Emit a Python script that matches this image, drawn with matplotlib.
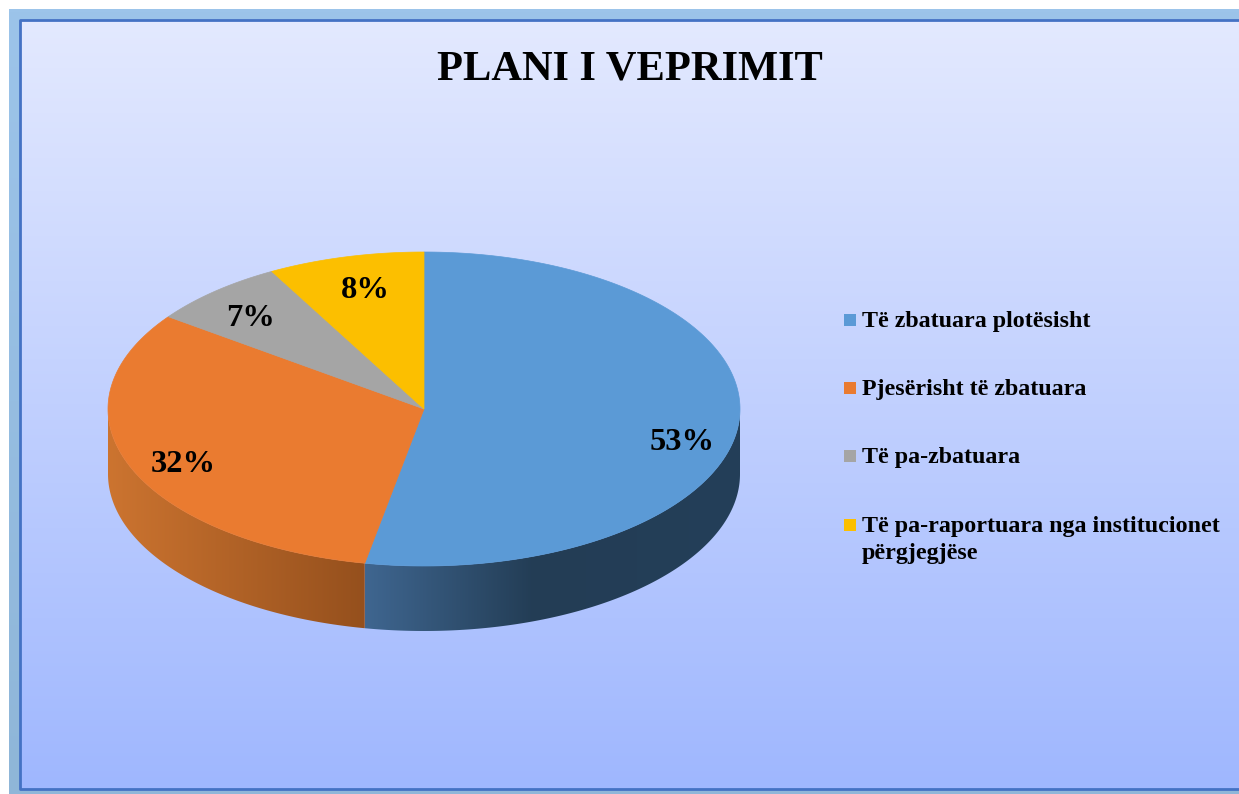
import numpy as np
import matplotlib
matplotlib.use('Agg')
import matplotlib.pyplot as plt
from matplotlib.colors import LinearSegmentedColormap
from matplotlib.patches import Polygon, Rectangle

title = 'PLANI I VEPRIMIT'
categories = ['Të zbatuara plotësisht', 'Pjesërisht të zbatuara', 'Të pa-zbatuara',
              'Të pa-raportuara nga institucionet\npërgjegjëse']
values = [53, 32, 7, 8]
colors = ['#5b9ad6', '#ea7b30', '#a5a5a5', '#fcbf00']
labels = ['53%', '32%', '7%', '8%']

# pie geometry in image pixels
cx, cy = 424, 409
rx, ry = 316, 157
depth = 65
W, H = 1239, 794

plt.rcParams['font.family'] = ['Liberation Serif', 'DejaVu Serif']
plt.rcParams['font.weight'] = 'bold'

fig = plt.figure(figsize=(W / 100, H / 100), dpi=100, facecolor='white')
ax = fig.add_axes([0, 0, 1, 1])
ax.set_xlim(0, W)
ax.set_ylim(H, 0)
ax.axis('off')


def grad(*c):
    return LinearSegmentedColormap.from_list('g', list(c))


# outer frame and chart area
ax.imshow(np.linspace(0, 1, 256).reshape(-1, 1), cmap=grad('#9cc4ea', '#8fb6d8'),
          extent=(9, W, H, 9), aspect='auto', zorder=0)
ax.imshow(np.linspace(0, 1, 256).reshape(-1, 1), cmap=grad('#e3e9ff', '#9fb7fe'),
          extent=(20, W, 789, 20), aspect='auto', zorder=1)
ax.plot([W, 20, 20, W], [20, 20, 789, 789], color='#4472c4', lw=2, zorder=2)


def ell(t):
    # t in degrees, clockwise from the top
    r = np.radians(t)
    return cx + rx * np.sin(r), cy - ry * np.cos(r)


fracs = np.cumsum([0] + values) / sum(values) * 360

# side wall, visible only on the lower half of the ellipse
side_maps = [LinearSegmentedColormap.from_list('b', [(0, '#3f6690'), (0.45, '#233d55'), (1, '#243f59')]),
             grad('#cc7430', '#95501d')]
for i in range(2):
    t0, t1 = max(fracs[i], 90), min(fracs[i + 1], 270)
    x, y = ell(np.linspace(t0, t1, 200))
    clip = Polygon(np.r_[np.c_[x, y], np.c_[x[::-1], y[::-1] + depth]], fc='none', ec='none')
    ax.add_patch(clip)
    im = ax.imshow(np.linspace(0, 1, 256).reshape(1, -1), cmap=side_maps[i], aspect='auto',
                   extent=(x.min(), x.max(), cy + ry + depth, cy), zorder=3)
    im.set_clip_path(clip)
ax.set_xlim(0, W)
ax.set_ylim(H, 0)

# top face
for i, c in enumerate(colors):
    x, y = ell(np.linspace(fracs[i], fracs[i + 1], 200))
    ax.add_patch(Polygon(np.r_[[[cx, cy]], np.c_[x, y]], fc=c, ec=c, lw=0.5, zorder=4))

# percent labels
label_x = [682, 183, 251, 365]
label_y = [442, 465, 318, 290]
for x, y, s in zip(label_x, label_y, labels):
    ax.text(x, y, s, fontsize=23.4, ha='center', va='center', color='black', zorder=5)

ax.text(630, 69, title, fontsize=30.6, ha='center', va='center', color='black', zorder=5)

# legend
legend_y = [320, 388, 456, 525]
for y, c, s in zip(legend_y, colors, categories):
    ax.add_patch(Rectangle((844, y - 6), 12, 12, fc=c, ec='none', zorder=5))
    ax.text(862, y - 9, s, fontsize=17.3, ha='left', va='top', color='black', zorder=5,
            linespacing=1.37)

fig.savefig('out.png', dpi=100)
